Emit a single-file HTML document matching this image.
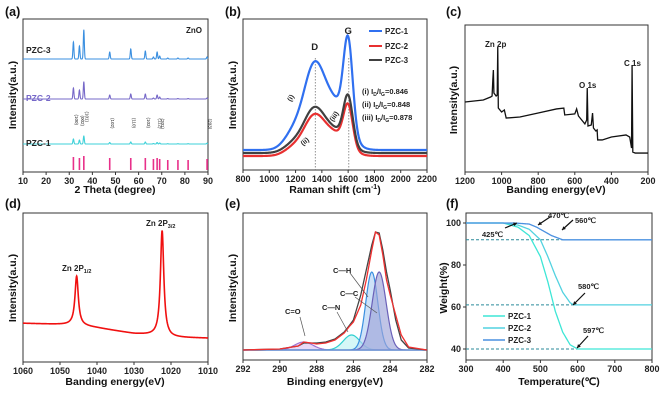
<!DOCTYPE html>
<html><head><meta charset="utf-8">
<style>
html,body{margin:0;padding:0;background:#fff;}
svg{display:block;font-family:"Liberation Sans",Arial,sans-serif;}
.tk{font-size:9px;font-weight:bold;fill:#222;}
.ttl{font-size:10.5px;font-weight:bold;fill:#111;}
.pl{font-size:12.5px;font-weight:bold;fill:#111;}
.an{font-size:8px;font-weight:bold;fill:#222;}
</style></head>
<body>
<svg id="fig" width="664" height="401" viewBox="0 0 664 401"></svg>
<script>
// ---------- DATA ----------
// (a) XRD
const xrdPeaks=[31.8,34.4,36.3,47.5,56.6,62.9,66.4,68.0,69.1,72.6,77.0,81.4,89.6];
const xrdPZC3=[17,13,29,7,10,8,2,7,3,1,1,1,2];
const xrdPZC2=[11,9,17,4,5,5,1,4,2,0.5,0.5,0.5,1];
const xrdPZC1=[5,4,8,1.5,2,2,0.5,1.5,1,0.3,0.3,0.3,0.8];
const xrdRef=[13,12,14,12,12,12,11,12,11,10,10,10,11];
const hklLabels=["(100)","(002)","(101)","(102)","(110)","(103)","","(112)","(201)","","","","(203)"];
const xrdTicks=[10,20,30,40,50,60,70,80,90];
// (b) Raman
const ramanBands=[1180,1340,1510,1600];
const ramanSigma=[70,80,90,35];
const ramanPZC1=[15,80,42,88];
const ramanPZC2=[7,38,20,40];
const ramanPZC3=[8,42,20,46];
const ramanTicks=[800,1000,1200,1400,1600,1800,2000,2200];
// (c) XPS survey
const surveyE=[1200,1150,1100,1060,1052,1048,1045,1042,1030,1024,1021,1018,1000,985,975,900,800,700,660,655,600,590,580,545,535,532,528,510,503,498,485,478,475,450,400,320,300,290,287,283,270,200];
const surveyI=[47.6,48.3,49,51,51.7,62.6,69.4,53.7,51.7,52.4,85,43.5,40.8,42.2,36.7,37.4,40.1,42.9,43.5,38.8,39.5,42.9,38.1,32.7,35.4,57.1,31.3,32,40.1,29.9,27.9,28.6,21.8,21.8,23.8,25.2,23.8,16.3,72.8,13.6,12.9,12.9];
const surveyTicks=[1200,1000,800,600,400,200];
// (d) Zn 2p
const znBaseE=[1060,1047,1043,1040,1030,1025,1020,1010];
const znBaseI=[26,25,24,23,19,18,16.5,16];
const znPeakE=[1045.5,1022.4];
const znPeakH=[33,71];
const znTicks=[1060,1050,1040,1030,1020,1010];
// (e) C 1s
const c1sEnvE=[292,290,289,288.7,288.3,288,287.5,287,286.5,286.2,286,285.6,285.3,285,284.8,284.6,284.4,284.2,284,283.7,283.4,283,282];
const c1sRed=[0,1,4,8,7,6,7,10,17,24,28,45,70,100,118,115,95,70,55,35,15,3,0];
const c1sBlack=[0,1,4,7,7,7,8,11,18,25,30,55,80,105,118,117,100,78,60,30,10,2,0];
const compNames=["C=O","C—N","C—H","C—C"];
const compPos=[288.7,286.1,285.0,284.6];
const compH=[8,15,78,78];
const compSig=[0.5,0.45,0.33,0.38];
const c1sTicks=[292,290,288,286,284,282];
// (f) TGA
const tgaT1=[300,400,440,470,500,520,540,560,580,600,800];
const tgaW1=[100,100,98,94,84,72,58,48,42,40,40];
const tgaT2=[300,400,440,470,500,520,540,560,580,590,800];
const tgaW2=[100,100,99,97,92,84,75,67,62,61,61];
const tgaT3=[300,430,470,490,510,530,545,560,800];
const tgaW3=[100,100,99.5,98,96,94,93,92,92];
const tgaXTicks=[300,400,500,600,700,800];
const tgaYTicks=[100,80,60,40];

// ---------- HELPERS ----------
const NS="http://www.w3.org/2000/svg";
const svg=document.getElementById('fig');
function el(tag,attrs,parent){const e=document.createElementNS(NS,tag);for(const k in attrs)e.setAttribute(k,attrs[k]);(parent||svg).appendChild(e);return e;}
function lin(d0,d1,r0,r1){return v=>r0+(v-d0)*(r1-r0)/(d1-d0);}
function txt(x,y,s,cls,name,extra){const t=el('text',Object.assign({x:x,y:y,class:cls},extra||{}));t.textContent=s;


return t;}
function gauss(x,c,s){return Math.exp(-((x-c)*(x-c))/(2*s*s));}
function box(x0,y0,x1,y1,name){const r=el('rect',{x:x0,y:y0,width:x1-x0,height:y1-y0,fill:'none',stroke:'#333','stroke-width':1});

}
function xticks(ticks,sx,yb,name){ticks.forEach(t=>{el('line',{x1:sx(t),x2:sx(t),y1:yb,y2:yb+3,stroke:'#333'});
const l=txt(sx(t),yb+12,String(t),'tk',name,{'text-anchor':'middle'});});}
function pathFrom(xs,ys){return xs.map((x,i)=>(i?'L':'M')+x.toFixed(2)+' '+ys[i].toFixed(2)).join('');}
function interp(xs,ys,x){for(let i=0;i<xs.length-1;i++){const a=xs[i],b=xs[i+1];if((x-a)*(x-b)<=0){const t=(x-a)/(b-a);return ys[i]+t*(ys[i+1]-ys[i]);}}return ys[ys.length-1];}

// ---------- (a) XRD ----------
(function(){
const X0=23,X1=208,Y0=19,Y1=172;
const sx=lin(10,90,X0,X1);
txt(5,16,'(a)','pl','panel-label-a');
box(X0,Y0,X1,Y1,'xrd-plot-frame');
const series=[[xrdPZC3,59,'#3a8fe0','PZC-3'],[xrdPZC2,99,'#7668c8','PZC-2'],[xrdPZC1,144,'#3ed0d8','PZC-1']];
series.forEach(s=>{const xs=[],ys=[];for(let t=10;t<=90;t+=0.04){let v=0;xrdPeaks.forEach((p,i)=>v+=s[0][i]*gauss(t,p,0.22));xs.push(sx(t));ys.push(s[1]-v);}
const p=el('path',{d:pathFrom(xs,ys),fill:'none',stroke:s[2],'stroke-width':1.1});

});
txt(26,53,'PZC-3','an','xrd-label-pzc3',{style:'font-size:8.5px'});
txt(26,101,'PZC-2','an','xrd-label-pzc2',{style:'font-size:8.5px;fill:#7668c8'});
txt(26,146,'PZC-1','an','xrd-label-pzc1',{style:'font-size:8.5px'});
txt(186,33,'ZnO','an','xrd-label-zno');
xrdPeaks.forEach((p,i)=>{const b=el('line',{x1:sx(p),x2:sx(p),y1:Y1-2,y2:Y1-2-xrdRef[i],stroke:'#e8308a','stroke-width':1.6});


if(hklLabels[i]){const t=txt(0,0,hklLabels[i],'an','xrd-hkl-label',{style:'font-size:4.5px;font-weight:normal',transform:'translate('+(sx(p)+1.5)+','+(134-xrdPZC1[i]-4)+') rotate(90)','text-anchor':'end'});}});
xticks(xrdTicks,sx,Y1,'xrd-x-tick');
txt(115,193,'2 Theta (degree)','ttl','xrd-x-axis-title',{'text-anchor':'middle'});
txt(0,0,'Intensity(a.u.)','ttl','xrd-y-axis-title',{'text-anchor':'middle',transform:'translate(16,95) rotate(-90)'});
})();

// ---------- (b) Raman ----------
(function(){
const X0=243,X1=427,Y0=19,Y1=170;
const sx=lin(800,2200,X0,X1);
txt(225,16,'(b)','pl','panel-label-b');
box(X0,Y0,X1,Y1,'raman-plot-frame');
[1350,1605].forEach(v=>{el('line',{x1:sx(v),x2:sx(v),y1:58,y2:Y1,stroke:'#777','stroke-dasharray':'1.5,1.5','stroke-width':0.8});});
const series=[[ramanPZC2,156,'#e83030','PZC-2'],[ramanPZC3,153,'#404040','PZC-3'],[ramanPZC1,150,'#3070f0','PZC-1']];
series.forEach(s=>{const xs=[],ys=[];for(let t=800;t<=2200;t+=4){let v=0;ramanBands.forEach((c,i)=>v+=s[0][i]*gauss(t,c,ramanSigma[i]));xs.push(sx(t));ys.push(s[1]-v);}
const p=el('path',{d:pathFrom(xs,ys),fill:'none',stroke:s[2],'stroke-width':2.2});

});
txt(sx(1345),50,'D','an','raman-d-band-label',{'text-anchor':'middle',style:'font-size:9.5px'});
txt(sx(1600),34,'G','an','raman-g-band-label',{'text-anchor':'middle',style:'font-size:9.5px'});
txt(0,0,'(i)','an','raman-annot-i',{transform:'translate(291,102) rotate(-60)',style:'font-size:7px'});
txt(0,0,'(ii)','an','raman-annot-ii',{transform:'translate(303,146) rotate(-40)',style:'font-size:7px'});
txt(0,0,'(iii)','an','raman-annot-iii',{transform:'translate(333,122) rotate(-55)',style:'font-size:7px'});
[['#3070f0','PZC-1',34],['#e83030','PZC-2',49],['#404040','PZC-3',63]].forEach(l=>{
const ln=el('line',{x1:369,x2:382,y1:l[2]-3,y2:l[2]-3,stroke:l[0],'stroke-width':2});


txt(385,l[2],l[1],'an','raman-legend-entry',{style:'font-size:8px'});});
const ratios=[['(i)  ','0.846',94],['(ii) ','0.848',107],['(iii)','0.878',120]];
ratios.forEach(r=>{const t=el('text',{x:362,y:r[2],class:'an',style:'font-size:7.5px'});


t.innerHTML=r[0]+' I<tspan font-size="5" dy="2">D</tspan><tspan dy="-2">/I</tspan><tspan font-size="5" dy="2">G</tspan><tspan dy="-2">='+r[1]+'</tspan>';});
xticks(ramanTicks,sx,Y1,'raman-x-tick');
const xt=el('text',{x:335,y:193,class:'ttl','text-anchor':'middle'});


xt.innerHTML='Raman shift (cm<tspan font-size="7" dy="-4">-1</tspan><tspan dy="4">)</tspan>';
txt(0,0,'Intensity(a.u.)','ttl','raman-y-axis-title',{'text-anchor':'middle',transform:'translate(236,95) rotate(-90)'});
})();

// ---------- (c) survey ----------
(function(){
const X0=465,X1=648,Y0=25,Y1=172;
const sx=lin(1200,200,X0,X1), sy=lin(0,100,Y1,Y0);
txt(446,16,'(c)','pl','panel-label-c');
box(X0,Y0,X1,Y1,'survey-plot-frame');
const p=el('path',{d:pathFrom(surveyE.map(sx),surveyI.map(sy)),fill:'none',stroke:'#111','stroke-width':1.3});


txt(485,47,'Zn 2p','an','survey-label-zn2p');
txt(579,88,'O 1s','an','survey-label-o1s');
txt(624,66,'C 1s','an','survey-label-c1s');
xticks(surveyTicks,sx,Y1,'survey-x-tick');
txt(556,193,'Banding energy(eV)','ttl','survey-x-axis-title',{'text-anchor':'middle'});
txt(0,0,'Intensity(a.u.)','ttl','survey-y-axis-title',{'text-anchor':'middle',transform:'translate(457,100) rotate(-90)'});
})();

// ---------- (d) Zn 2p ----------
(function(){
const X0=23,X1=208,Y0=213,Y1=362;
const sx=lin(1060,1010,X0,X1), sy=lin(0,100,Y1,Y0);
txt(5,208,'(d)','pl','panel-label-d');
box(X0,Y0,X1,Y1,'zn2p-plot-frame');
const xs=[],ys=[];for(let e=1060;e>=1010;e-=0.05){let v=interp(znBaseE,znBaseI,e);znPeakE.forEach((c,i)=>v+=znPeakH[i]/(1+Math.pow((e-c)/0.55,2)));xs.push(sx(e));ys.push(sy(v));}
const p=el('path',{d:pathFrom(xs,ys),fill:'none',stroke:'#f01010','stroke-width':1.6});


const a=el('text',{x:62,y:271,class:'an'});


a.innerHTML='Zn 2P<tspan font-size="5.5" dy="2">1/2</tspan>';
const b=el('text',{x:146,y:226,class:'an'});


b.innerHTML='Zn 2P<tspan font-size="5.5" dy="2">3/2</tspan>';
xticks(znTicks,sx,Y1,'zn2p-x-tick');
txt(115,385,'Banding energy(eV)','ttl','zn2p-x-axis-title',{'text-anchor':'middle'});
txt(0,0,'Intensity(a.u.)','ttl','zn2p-y-axis-title',{'text-anchor':'middle',transform:'translate(16,288) rotate(-90)'});
})();

// ---------- (e) C 1s ----------
(function(){
const X0=243,X1=427,Y0=213,Y1=360;
const sx=lin(292,282,X0,X1), sy=lin(0,100,350,250);
txt(225,208,'(e)','pl','panel-label-e');
box(X0,Y0,X1,Y1,'c1s-plot-frame');
const fills=['#dcc4f2','#bff2f2','#b4d2f4','#9ea4d8'];
const strokes=['#a070d0','#30d0d0','#3a90e0','#6a60b8'];
compPos.forEach((c,i)=>{const xs=[],ys=[];for(let e=292;e>=282;e-=0.04){xs.push(sx(e));ys.push(sy(compH[i]*gauss(e,c,compSig[i])));}
const f=el('path',{d:pathFrom(xs,ys)+'Z',fill:fills[i],'fill-opacity':0.65,stroke:strokes[i],'stroke-width':1.2});

});
const bl=el('line',{x1:X0,x2:X1,y1:350,y2:350,stroke:'#7a9ad8','stroke-width':1});


const k=el('path',{d:pathFrom(c1sEnvE.map(sx),c1sBlack.map(sy)),fill:'none',stroke:'#444','stroke-width':1.3});


const r=el('path',{d:pathFrom(c1sEnvE.map(sx),c1sRed.map(sy)),fill:'none',stroke:'#f03030','stroke-width':1.3});


// [label x, label y, line x1, y1, x2, y2]
const labs=[[285,314,300,317,305,336],[322,310,337,312,348,332],[333,273,350,273,368,297],[340,296,355,297,377,313]];
compNames.forEach((n,i)=>{const L=labs[i];
const ll=el('line',{x1:L[2],y1:L[3],x2:L[4],y2:L[5],stroke:'#555','stroke-width':0.7});


txt(L[0],L[1],n,'an','c1s-label-'+i,{style:'font-size:7.5px'});});
xticks(c1sTicks,sx,Y1,'c1s-x-tick');
txt(335,385,'Binding energy(eV)','ttl','c1s-x-axis-title',{'text-anchor':'middle'});
txt(0,0,'Intensity(a.u.)','ttl','c1s-y-axis-title',{'text-anchor':'middle',transform:'translate(236,288) rotate(-90)'});
})();

// ---------- (f) TGA ----------
(function(){
const X0=466,X1=652,Y0=213,Y1=360;
const sx=lin(300,800,X0,X1), sy=lin(100,40,223,349);
txt(446,208,'(f)','pl','panel-label-f');
box(X0,Y0,X1,Y1,'tga-plot-frame');
[[92,560],[61,590],[40,600]].forEach(d=>{el('line',{x1:X0,x2:sx(d[1]),y1:sy(d[0]),y2:sy(d[0]),stroke:'#2a8a9a','stroke-dasharray':'3,2','stroke-width':1});});
function smooth(T,W){const xs=[],ys=[];for(let t=300;t<=800;t+=2){xs.push(sx(t));ys.push(sy(interp(T,W,t)));}return pathFrom(xs,ys);}
[[tgaT1,tgaW1,'#3ee6d6','pzc1'],[tgaT2,tgaW2,'#52d2e0','pzc2'],[tgaT3,tgaW3,'#4a90e0','pzc3']].forEach(s=>{
const p=el('path',{d:smooth(s[0],s[1]),fill:'none',stroke:s[2],'stroke-width':1.3,'stroke-linejoin':'round'});

});
[['#3ee6d6','PZC-1',319],['#52d2e0','PZC-2',331],['#4a90e0','PZC-3',343]].forEach(l=>{
const ln=el('line',{x1:483,x2:505,y1:l[2]-3,y2:l[2]-3,stroke:l[0],'stroke-width':1.5});


txt(508,l[2],l[1],'an','tga-legend-entry');});
const ann=[['425℃',482,237,505,228,517,223],['470℃',548,218,550,217,538,225],['560℃',575,223,573,220,562,230],['580℃',578,289,585,293,573,305],['597℃',583,333,588,336,577,348]];
ann.forEach(a=>{txt(a[1],a[2],a[0],'an','tga-annotation',{style:'font-size:7.5px'});
el('line',{x1:a[3],y1:a[4],x2:a[5],y2:a[6],stroke:'#111','stroke-width':1.2});
const ang=Math.atan2(a[6]-a[4],a[5]-a[3]);const h=4;
el('path',{d:'M'+a[5]+' '+a[6]+'L'+(a[5]-h*Math.cos(ang-0.5))+' '+(a[6]-h*Math.sin(ang-0.5))+'L'+(a[5]-h*Math.cos(ang+0.5))+' '+(a[6]-h*Math.sin(ang+0.5))+'Z',fill:'#111'});});
xticks(tgaXTicks,sx,Y1,'tga-x-tick');
tgaYTicks.forEach(t=>{el('line',{x1:X0-3,x2:X0,y1:sy(t),y2:sy(t),stroke:'#333'});txt(X0-5,sy(t)+3,String(t),'tk','tga-y-tick',{'text-anchor':'end'});});
txt(559,385,'Temperature(℃)','ttl','tga-x-axis-title',{'text-anchor':'middle'});
txt(0,0,'Weight(%)','ttl','tga-y-axis-title',{'text-anchor':'middle',transform:'translate(447,288) rotate(-90)'});
})();
</script>
</body></html>
